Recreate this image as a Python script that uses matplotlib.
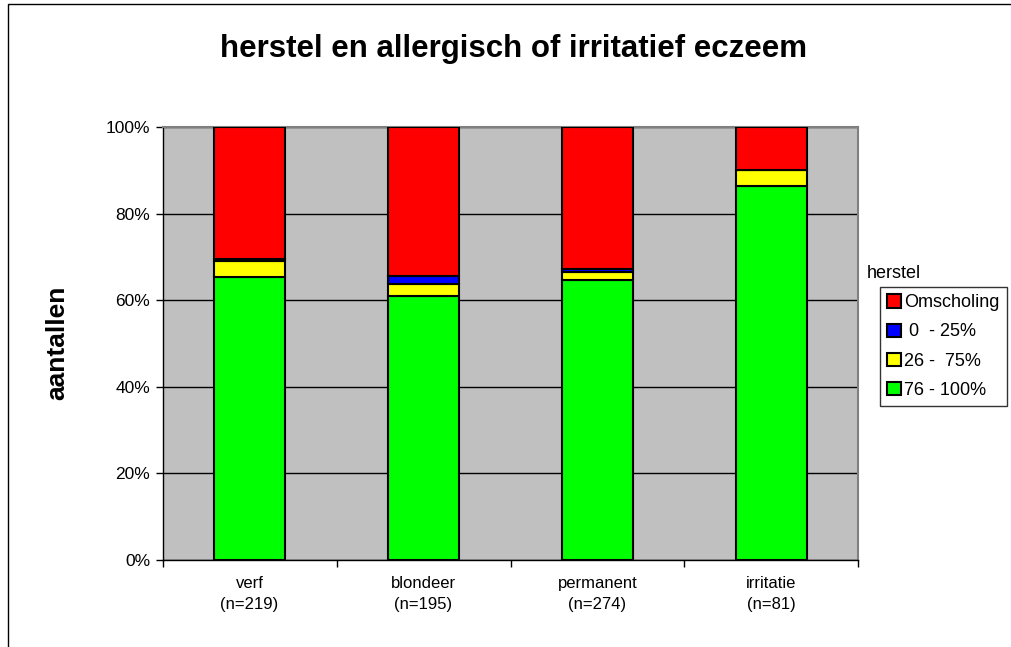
import matplotlib
matplotlib.use("Agg")
import matplotlib.pyplot as plt
import numpy as np
from matplotlib.ticker import FixedLocator, PercentFormatter
from matplotlib.patches import Rectangle

plt.rcParams['font.family'] = ['Liberation Sans', 'DejaVu Sans']

categories = ["verf\n(n=219)", "blondeer\n(n=195)", "permanent\n(n=274)", "irritatie\n(n=81)"]
series_names = ["76 - 100%", "26 -  75%", " 0  - 25%", "Omscholing"]
counts_76_100 = [143, 119, 177, 70]
counts_26_75 = [8, 5, 5, 3]
counts_0_25 = [1, 4, 2, 0]
counts_omscholing = [67, 67, 90, 8]
colors = ["#00FF00", "#FFFF00", "#0000FF", "#FF0000"]

series = [counts_76_100, counts_26_75, counts_0_25, counts_omscholing]
totals = np.sum(np.array(series, dtype=float), axis=0)

fig = plt.figure(figsize=(10.12, 6.47), dpi=100)
ax = fig.add_axes([0.1606, 0.1352, 0.6877, 0.6685])
ax.set_facecolor("#C0C0C0")

# figure frame (top and left visible)
fig.patches.append(Rectangle((8/1012, -0.1), 1.2, 1 - 4/647 + 0.1, transform=fig.transFigure,
                             fill=False, edgecolor="black", linewidth=1.0, zorder=0))

x = np.arange(1, len(categories) + 1)
bottom = np.zeros(len(categories))
handles = []
for vals, name, col in zip(series, series_names, colors):
    pct = np.array(vals, dtype=float) / totals * 100
    h = ax.bar(x, pct, width=0.41, bottom=bottom, color=col, edgecolor="black",
               linewidth=1.5, label=name, zorder=3)
    handles.append(h)
    bottom += pct

ax.set_xlim(0.5, 4.5)
ax.set_ylim(0, 100)
ax.yaxis.set_major_locator(FixedLocator([0, 20, 40, 60, 80, 100]))
ax.yaxis.set_major_formatter(PercentFormatter(decimals=0))
ax.grid(axis='y', color='black', linewidth=1.0, zorder=1)
ax.set_axisbelow(True)

ax.set_xticks(x)
ax.set_xticklabels(categories, fontsize=12, linespacing=1.5)
ax.xaxis.set_minor_locator(FixedLocator([0.5, 1.5, 2.5, 3.5, 4.5]))
ax.tick_params(axis='x', which='major', length=0, pad=12)
ax.tick_params(axis='x', which='minor', length=5, width=1, color='black', direction='out')
ax.tick_params(axis='y', length=5, width=1, labelsize=12.5, pad=4, direction='out')

for s in ['top', 'right']:
    ax.spines[s].set_color('#808080')
    ax.spines[s].set_linewidth(1.5)
for s in ['left', 'bottom']:
    ax.spines[s].set_color('black')
    ax.spines[s].set_linewidth(1.0)

fig.text(514/1012, 1 - 49/647, "herstel en allergisch of irritatief eczeem", ha='center', va='center',
         fontsize=22.5, fontweight='bold')
fig.text(57/1012, 1 - 343/647, "aantallen", rotation=90, ha='center', va='center',
         fontsize=19, fontweight='bold')

fig.text(867/1012, 1 - 273/647, "herstel", ha='left', va='center', fontsize=13)
leg = ax.legend(handles[::-1], series_names[::-1], loc='upper left',
                bbox_to_anchor=(880/1012, 1 - 287/647), bbox_transform=fig.transFigure,
                fontsize=13, frameon=True, fancybox=False, edgecolor='black',
                handlelength=0.75, handleheight=0.75, handletextpad=0.2, borderpad=0.4,
                labelspacing=0.68, borderaxespad=0)
leg.get_frame().set_linewidth(1.0)

fig.savefig("out.png", dpi=100, facecolor="white")
